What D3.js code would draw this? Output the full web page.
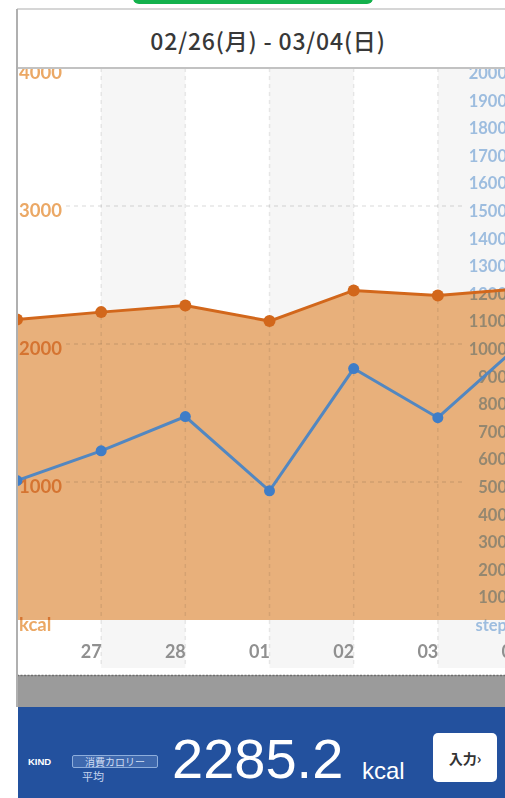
<!DOCTYPE html>
<html><head><meta charset="utf-8">
<script src="https://cdn.jsdelivr.net/npm/d3@7"></script>
<style>html,body{margin:0;padding:0;background:#fff;overflow:hidden}</style>
</head><body>
<svg id="c" width="505" height="798"></svg>
<script>
// ---- data ----
const days = ["26", "27", "28", "01", "02", "03", "04"];
const kcal = [2178, 2231, 2279, 2166, 2388, 2352, 2402];
const steps = [505, 613, 737, 468, 911, 733, 1005];
const kcalTicks = [0, 1000, 2000, 3000, 4000];
const kcalTickLabels = ["kcal", "1000", "2000", "3000", "4000"];
const stepTicks = d3.range(0, 2001, 100);
const stepTickLabels = stepTicks.map(v => v === 0 ? "step" : String(v));
const titleText = "02/26(月) - 03/04(日)";
const avgLabel = "2285.2";
const unitLabel = "kcal";
const kindLabel = "KIND";
const kindTag = "消費カロリー";
const avgWord = "平均";
const inputLabel = "入力›";

// ---- layout ----
const W = 505, H = 798;
const cardL = 17, cardT = 9;
const plotT = 68, plotB = 620, xEnd = 522, labelBottom = 668;
const svg = d3.select("#c");
const sans = "Lato, 'Open Sans', 'Noto Sans', sans-serif";

const x = d3.scalePoint().domain(days).range([cardL, xEnd]);
const yL = d3.scaleLinear().domain([0, 4000]).range([plotB, plotT]);
const yR = d3.scaleLinear().domain([0, 2000]).range([plotB, plotT]);

svg.append("rect").attr("width", W).attr("height", H).attr("fill", "#fff");

// green button on top
svg.append("rect").attr("x", 133).attr("y", -10).attr("width", 240).attr("height", 14)
  .attr("rx", 6).attr("fill", "#13b14c");

// card border
svg.append("line").attr("x1", cardL).attr("x2", W).attr("y1", cardT).attr("y2", cardT)
  .attr("stroke", "#c8c8c8").attr("stroke-width", 1.5);

// title
svg.append("text").attr("x", 268).attr("y", 50).attr("text-anchor", "middle")
  .attr("font-family", "'Noto Sans CJK JP', 'Noto Sans', sans-serif")
  .attr("font-size", 23).attr("font-weight", 500).attr("fill", "#383838")
  .attr("letter-spacing", 0.8)
  .text(titleText);

// clip
const defs = svg.append("defs");
defs.append("clipPath").attr("id", "clipPlot").append("rect")
  .attr("x", cardL).attr("y", plotT).attr("width", W - cardL).attr("height", labelBottom - plotT);

const g = svg.append("g").attr("clip-path", "url(#clipPlot)");

// alternating bands
g.selectAll("rect.band").data(days.slice(0, -1).map((d, i) => i).filter(i => i % 2 === 1))
  .join("rect").attr("class", "band")
  .attr("x", i => x(days[i])).attr("width", i => x(days[i + 1]) - x(days[i]))
  .attr("y", plotT).attr("height", labelBottom - plotT)
  .attr("fill", "#f6f6f6");

// area
const pts = days.map((d, i) => ({ d, k: kcal[i], s: steps[i] }));
g.append("path").datum(pts)
  .attr("d", d3.area().x(p => x(p.d)).y0(yL(0)).y1(p => yL(p.k)))
  .attr("fill", "#e8b07b");

// grid (multiply so it shows inside fill)
g.selectAll("line.vg").data(days).join("line").attr("class", "vg")
  .attr("x1", d => x(d)).attr("x2", d => x(d))
  .attr("y1", plotT).attr("y2", labelBottom)
  .attr("stroke", "#ebebeb").attr("stroke-width", 1.5).attr("stroke-dasharray", "4,4")
  .style("mix-blend-mode", "multiply");
g.selectAll("line.hg").data(kcalTicks.filter(t => t > 0 && t < 4000)).join("line").attr("class", "hg")
  .attr("x1", 66).attr("x2", 463)
  .attr("y1", t => yL(t)).attr("y2", t => yL(t))
  .attr("stroke", "#e6e6e6").attr("stroke-width", 1.5).attr("stroke-dasharray", "4,4")
  .style("mix-blend-mode", "multiply");

// left tick labels
g.selectAll("text.yl").data(kcalTicks).join("text").attr("class", "yl")
  .attr("x", cardL + 2).attr("y", t => yL(t) + 11)
  .attr("font-family", sans).attr("font-size", 18.5).attr("font-weight", 700)
  .attr("fill", "#eba865")
  .style("mix-blend-mode", "multiply")
  .text((t, i) => kcalTickLabels[i]);

// right tick labels
g.selectAll("text.yr").data(stepTicks).join("text").attr("class", "yr")
  .attr("x", 507).attr("y", t => yR(t) + 11).attr("text-anchor", "end")
  .attr("font-family", sans).attr("font-size", 16.5).attr("font-weight", 700)
  .attr("fill", "#a3c4e8")
  .style("mix-blend-mode", "multiply")
  .text((t, i) => stepTickLabels[i]);

// x labels
g.selectAll("text.xl").data(days).join("text").attr("class", "xl")
  .attr("x", d => x(d) - 10).attr("y", 658).attr("text-anchor", "middle")
  .attr("font-family", sans).attr("font-size", 18).attr("font-weight", 700)
  .attr("fill", "#909090")
  .text(d => d);

// steps line
g.append("path").datum(pts)
  .attr("d", d3.line().x(p => x(p.d)).y(p => yR(p.s)))
  .attr("fill", "none").attr("stroke", "#5287c1").attr("stroke-width", 3);
g.selectAll("circle.sp").data(pts).join("circle").attr("class", "sp")
  .attr("cx", p => x(p.d)).attr("cy", p => yR(p.s)).attr("r", 5.5).attr("fill", "#3f7dc7");

// kcal line
g.append("path").datum(pts)
  .attr("d", d3.line().x(p => x(p.d)).y(p => yL(p.k)))
  .attr("fill", "none").attr("stroke", "#d2671b").attr("stroke-width", 3);
g.selectAll("circle.kp").data(pts).join("circle").attr("class", "kp")
  .attr("cx", p => x(p.d)).attr("cy", p => yL(p.k)).attr("r", 6).attr("fill", "#d2671b");

// plot top border
svg.append("line").attr("x1", cardL).attr("x2", W).attr("y1", plotT).attr("y2", plotT)
  .attr("stroke", "#c2c2c2").attr("stroke-width", 2);

// gray bar
svg.append("rect").attr("x", cardL).attr("y", 675).attr("width", W - cardL).attr("height", 32)
  .attr("fill", "#9b9b9b");
svg.append("line").attr("x1", cardL).attr("x2", W).attr("y1", 675.5).attr("y2", 675.5)
  .attr("stroke", "#6e6e6e").attr("stroke-width", 1.5).attr("stroke-dasharray", "2,1.5");

// left card border / axis line
svg.append("line").attr("x1", cardL).attr("x2", cardL).attr("y1", cardT).attr("y2", 707)
  .attr("stroke", "#b0b0b0").attr("stroke-width", 2);

// blue panel
svg.append("rect").attr("x", cardL + 1).attr("y", 707).attr("width", W - cardL).attr("height", H - 707)
  .attr("fill", "#23519e");
svg.append("text").attr("x", 28).attr("y", 765)
  .attr("font-family", "'Liberation Sans', Arial, sans-serif").attr("font-size", 9.5).attr("font-weight", 700)
  .attr("fill", "#ffffff").text(kindLabel);
svg.append("rect").attr("x", 72.5).attr("y", 755.5).attr("width", 85).attr("height", 12).attr("rx", 1.5)
  .attr("fill", "#3f69ae").attr("stroke", "#8eaedc").attr("stroke-width", 1);
svg.append("text").attr("x", 115).attr("y", 765.5).attr("text-anchor", "middle")
  .attr("font-family", "'Noto Sans CJK JP', sans-serif").attr("font-size", 10)
  .attr("fill", "#cfdcf2").text(kindTag);
svg.append("text").attr("x", 93).attr("y", 781).attr("text-anchor", "middle")
  .attr("font-family", "'Noto Sans CJK JP', sans-serif").attr("font-size", 11)
  .attr("fill", "#c5d5ee").text(avgWord);
svg.append("text").attr("x", 172).attr("y", 778)
  .attr("font-family", "'Liberation Sans', Arial, sans-serif").attr("font-size", 56)
  .attr("fill", "#ffffff").text(avgLabel);
svg.append("text").attr("x", 362).attr("y", 779)
  .attr("font-family", "'Liberation Sans', Arial, sans-serif").attr("font-size", 24)
  .attr("fill", "#ffffff").text(unitLabel);
svg.append("rect").attr("x", 433).attr("y", 733).attr("width", 64).attr("height", 49).attr("rx", 5)
  .attr("fill", "#ffffff");
svg.append("text").attr("x", 465).attr("y", 764).attr("text-anchor", "middle")
  .attr("font-family", "'Noto Sans CJK JP', sans-serif").attr("font-size", 14).attr("font-weight", 700)
  .attr("fill", "#333").text(inputLabel);
</script>
</body></html>
